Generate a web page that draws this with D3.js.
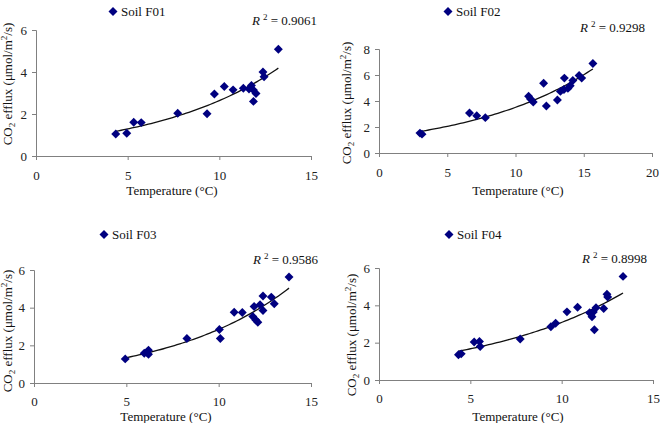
<!DOCTYPE html>
<html>
<head>
<meta charset="utf-8">
<script src="https://cdn.jsdelivr.net/npm/d3@7"></script>
<style>
  body { margin: 0; background: #fff; }
  svg { display: block; font-family: "Liberation Serif", "Times New Roman", serif; }
</style>
</head>
<body>
<svg id="chart" width="660" height="423"></svg>
<script>
// data
let soilNames = ["Soil F01", "Soil F02", "Soil F03", "Soil F04"];
let r2Values = ["0.9061", "0.9298", "0.9586", "0.8998"];

let f01Temp = [4.35, 4.95, 5.33, 5.74, 7.73, 9.33, 9.73, 10.27, 10.75, 11.31, 11.62, 11.75, 11.86, 12.0, 11.86, 12.38, 12.44, 13.22];
let f01Flux = [1.05, 1.08, 1.61, 1.59, 2.04, 2.01, 2.95, 3.31, 3.15, 3.23, 3.19, 3.36, 3.14, 2.98, 2.6, 4.0, 3.77, 5.08];

let f02Temp = [3.0, 3.15, 6.63, 7.16, 7.79, 10.96, 11.1, 11.3, 12.06, 12.26, 13.07, 13.29, 13.58, 13.55, 13.84, 14.01, 14.2, 14.66, 14.85, 15.67];
let f02Flux = [1.53, 1.45, 3.08, 2.87, 2.72, 4.36, 4.15, 3.92, 5.37, 3.62, 4.08, 4.74, 5.76, 4.89, 4.97, 5.17, 5.58, 5.96, 5.76, 6.88];

let f03Temp = [4.94, 5.97, 6.11, 6.2, 6.2, 8.28, 10.04, 10.09, 10.84, 11.28, 11.92, 12.24, 11.85, 12.01, 12.12, 12.4, 12.4, 12.85, 13.01, 13.81];
let f03Flux = [1.28, 1.58, 1.63, 1.74, 1.53, 2.36, 2.84, 2.36, 3.76, 3.74, 4.06, 4.15, 3.53, 3.35, 3.23, 4.62, 3.85, 4.56, 4.21, 5.63];

let f04Temp = [4.35, 4.5, 5.21, 5.5, 5.54, 7.73, 9.41, 9.67, 10.29, 10.87, 11.53, 11.66, 11.73, 11.88, 11.79, 12.3, 12.48, 12.52, 13.36];
let f04Flux = [1.35, 1.4, 2.04, 2.06, 1.79, 2.2, 2.85, 3.04, 3.65, 3.9, 3.6, 3.39, 3.64, 3.87, 2.69, 3.83, 4.6, 4.45, 5.55];

let xTicksA = [0, 5, 10, 15];
let xTicksB = [0, 5, 10, 15, 20];
let yTicksA = [0, 2, 4, 6];
let yTicksB = [0, 2, 4, 6, 8];

// panel layout (pixels)
let panels = [
  { temp: f01Temp, flux: f01Flux, xMax: 15, yMax: 6, xTicks: xTicksA, yTicks: yTicksA,
    left: 36, right: 311, top: 30, bottom: 156, pad: 11,
    legX: 113, legY: 16, r2X: 317, r2Y: 25, yLabX: 12, yLabY: 84, xTitX: 172, xTitY: 195 },
  { temp: f02Temp, flux: f02Flux, xMax: 20, yMax: 8, xTicks: xTicksB, yTicks: yTicksB,
    left: 379, right: 652, top: 49, bottom: 153, pad: 11,
    legX: 448, legY: 16, r2X: 645, r2Y: 32, yLabX: 351, yLabY: 103, xTitX: 518, xTitY: 195 },
  { temp: f03Temp, flux: f03Flux, xMax: 15, yMax: 6, xTicks: xTicksA, yTicks: yTicksA,
    left: 34, right: 311, top: 270, bottom: 383, pad: 10,
    legX: 104, legY: 239, r2X: 318, r2Y: 264, yLabX: 12, yLabY: 331, xTitX: 166, xTitY: 420.5 },
  { temp: f04Temp, flux: f04Flux, xMax: 15, yMax: 6, xTicks: xTicksA, yTicks: yTicksA,
    left: 379, right: 653, top: 268, bottom: 380, pad: 10,
    legX: 449, legY: 239, r2X: 647, r2Y: 263, yLabX: 356, yLabY: 335, xTitX: 518, xTitY: 420.5 }
];

let svg = d3.select("#chart");
let navy = "#000080";
let axisGrey = "#808080";
let diamond = d3.symbol().type(d3.symbolSquare).size(40);

// Excel style exponential trend: least squares on ln(y)
function expFit(xs, ys) {
  let n = xs.length;
  let lys = ys.map((v) => Math.log(v));
  let mx = d3.mean(xs), my = d3.mean(lys);
  let sxy = 0, sxx = 0;
  for (let i = 0; i < n; i++) {
    sxy += (xs[i] - mx) * (lys[i] - my);
    sxx += (xs[i] - mx) * (xs[i] - mx);
  }
  let b = sxy / sxx;
  let a = Math.exp(my - b * mx);
  return (x) => a * Math.exp(b * x);
}

panels.forEach(function (p, i) {
  let x = d3.scaleLinear().domain([0, p.xMax]).range([p.left, p.right]);
  let y = d3.scaleLinear().domain([0, p.yMax]).range([p.bottom, p.top]);
  let g = svg.append("g");

  // axes
  let xAxis = g.append("g")
    .attr("transform", "translate(0," + p.bottom + ")")
    .call(d3.axisBottom(x).tickValues(p.xTicks).tickSize(4).tickPadding(p.pad).tickFormat(d3.format("d")));
  let yAxis = g.append("g")
    .attr("transform", "translate(" + p.left + ",0)")
    .call(d3.axisLeft(y).tickValues(p.yTicks).tickSize(4).tickPadding(5).tickFormat(d3.format("d")));

  [xAxis, yAxis].forEach(function (a) {
    a.select(".domain").attr("stroke", axisGrey);
    a.selectAll(".tick line").attr("stroke", axisGrey);
    a.selectAll(".tick text")
      .attr("fill", "#222")
      .style("font-size", "13px")
      .style("font-family", "Liberation Serif, serif");
  });

  // trend line
  let f = expFit(p.temp, p.flux);
  let x0 = d3.min(p.temp), x1 = d3.max(p.temp);
  let curvePts = d3.range(0, 61).map((k) => x0 + (x1 - x0) * k / 60);
  g.append("path")
    .datum(curvePts)
    .attr("fill", "none")
    .attr("stroke", "#111")
    .attr("stroke-width", 1.3)
    .attr("d", d3.line().x((d) => x(d)).y((d) => y(f(d))));

  // points
  g.selectAll(".pt")
    .data(p.temp.map((t, k) => [t, p.flux[k]]))
    .enter()
    .append("path")
    .attr("class", "pt")
    .attr("d", diamond)
    .attr("fill", navy)
    .attr("transform", (d) => "translate(" + x(d[0]) + "," + y(d[1]) + ") rotate(45)");

  // legend
  g.append("path")
    .attr("d", diamond)
    .attr("fill", navy)
    .attr("transform", "translate(" + p.legX + "," + (p.legY - 4.5) + ") rotate(45)");
  g.append("text")
    .attr("x", p.legX + 8)
    .attr("y", p.legY)
    .style("font-size", "13px")
    .attr("fill", "#111")
    .text(soilNames[i]);

  // R squared
  let r2 = g.append("text")
    .attr("x", p.r2X)
    .attr("y", p.r2Y)
    .attr("text-anchor", "end")
    .style("font-size", "13px")
    .attr("fill", "#111");
  r2.append("tspan").style("font-style", "italic").text("R");
  r2.append("tspan").attr("dx", 3).attr("dy", -5).style("font-size", "9px").text("2");
  r2.append("tspan").attr("dy", 5).text(" = " + r2Values[i]);

  // y title
  let yt = g.append("text")
    .attr("transform", "translate(" + p.yLabX + "," + p.yLabY + ") rotate(-90)")
    .attr("text-anchor", "middle")
    .style("font-size", "13px")
    .attr("fill", "#111");
  yt.append("tspan").text("CO");
  yt.append("tspan").attr("dy", 3).style("font-size", "9px").text("2");
  yt.append("tspan").attr("dy", -3).text(" efflux (\u03bcmol/m");
  yt.append("tspan").attr("dy", -5).style("font-size", "9px").text("2");
  yt.append("tspan").attr("dy", 5).text("/s)");

  // x title
  g.append("text")
    .attr("x", p.xTitX)
    .attr("y", p.xTitY)
    .attr("text-anchor", "middle")
    .style("font-size", "13px")
    .attr("fill", "#111")
    .text("Temperature (\u00b0C)");
});
</script>
</body>
</html>
